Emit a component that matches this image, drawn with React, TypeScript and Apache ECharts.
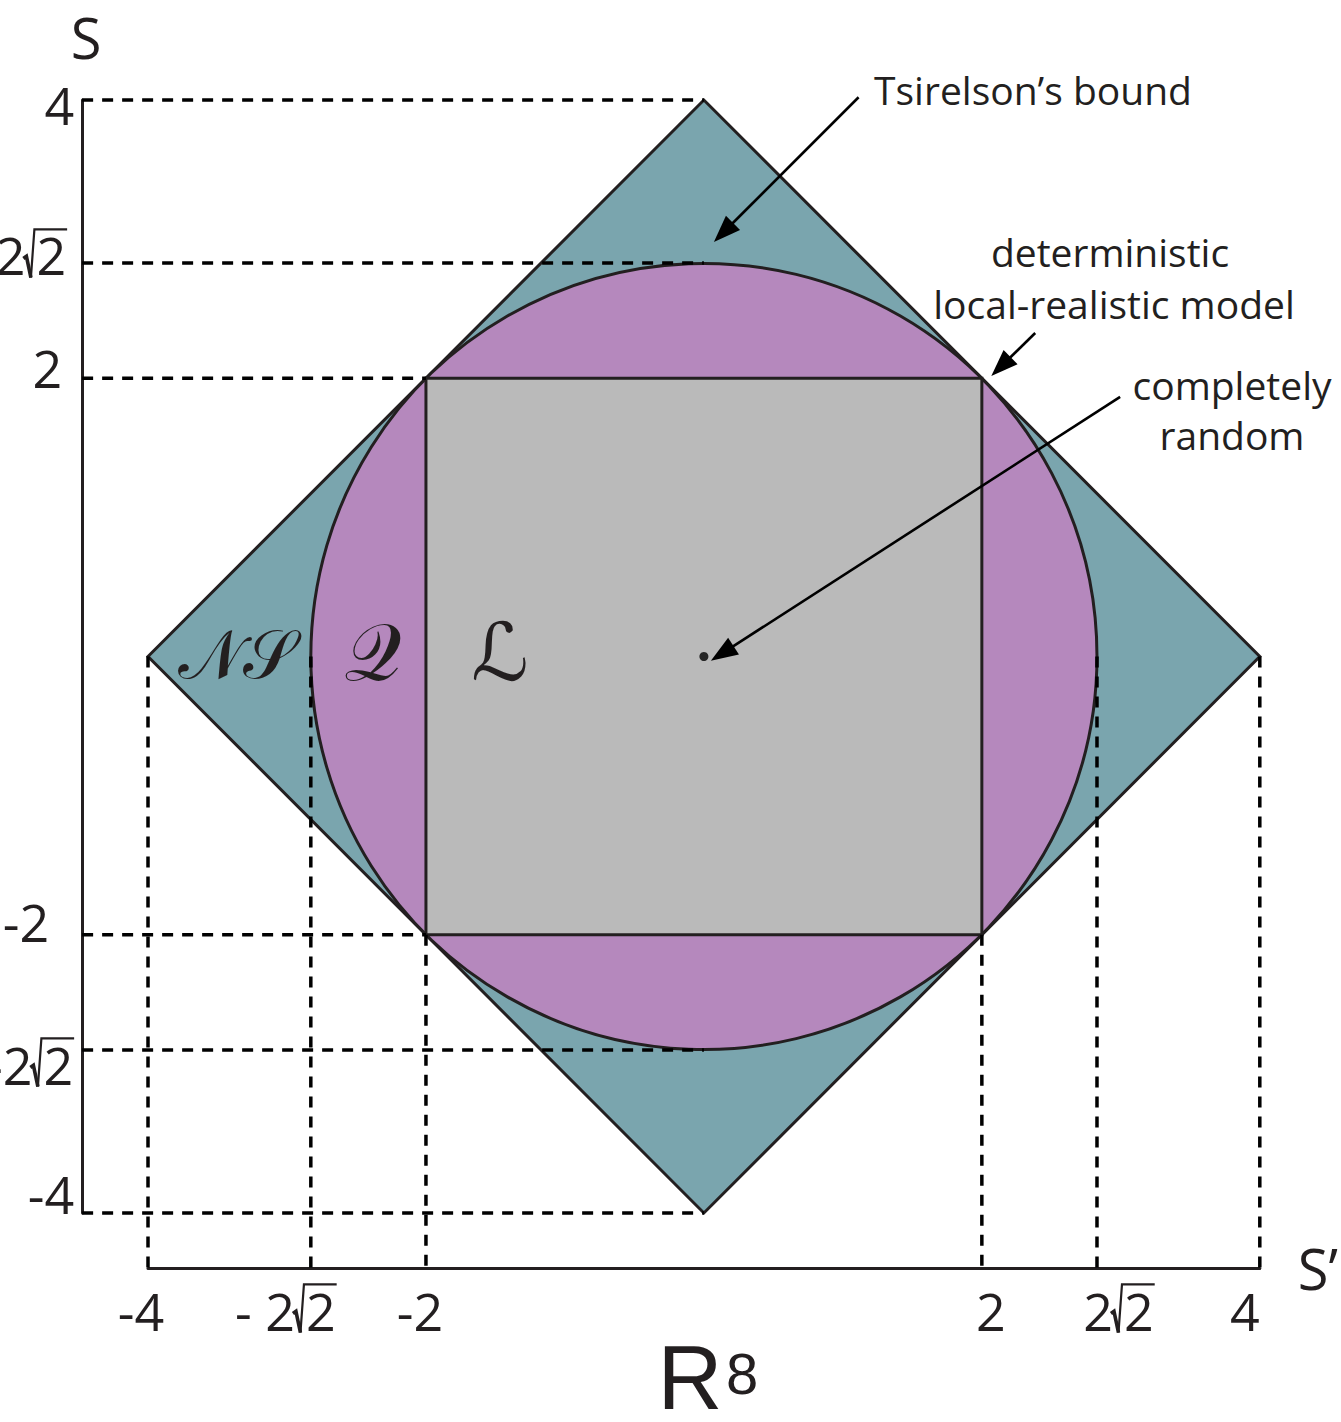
import React, { useEffect, useRef } from 'react';
import * as echarts from 'echarts';

const W = 1341;
const H = 1422;
const GRID = { left: 148, right: 79, top: 100, bottom: 209 };
const Y_AXIS_OFFSET = 66;
const X_AXIS_OFFSET = 55;

const INK = '#231F20';
const TEAL = '#7AA5AE';
const PURPLE = '#B588BD';
const GRAY = '#BABABA';
const FONT = '"Open Sans", "DejaVu Sans", sans-serif';
const SCRIPT_FONT = '"DejaVu Serif", "DejaVu Sans", "Liberation Serif", serif';
const TICK_SIZE = 52;

const SQ2 = Math.SQRT2;
const AXIS_MIN = -4;
const AXIS_MAX = 4;

// Regions
const DIAMOND = [[-4, 0], [0, 4], [4, 0], [0, -4]];
const CIRCLE = [0, 0, 2 * SQ2]; // cx, cy, r
const SQUARE = [-2, 2, 2, -2]; // x1, y1, x2, y2
const ORIGIN = [[0, 0]];

// Guide lines
const GUIDE_H_Y = [4, 2 * SQ2, 2, -2, -2 * SQ2, -4];
const GUIDE_H_XEND = [0, 0, -2, -2, 0, 0];
const GUIDE_V_X = [-4, -2 * SQ2, -2, 2, 2 * SQ2, 4];
const GUIDE_V_YSTART = [0, 0, -2, -2, 0, 0];

// Tick labels
const X_TICKS = [-4, -2 * SQ2, -2, 2, 2 * SQ2, 4];
const X_TICK_LABELS = ['-4', '- 2√2', '-2', '2', '2√2', '4'];
const Y_TICKS = [4, 2 * SQ2, 2, -2, -2 * SQ2, -4];
const Y_TICK_LABELS = ['4', '2√2', '2', '-2', '-2√2', '-4'];

// Annotation arrows: [fromX, fromY, toX, toY]
const ARROWS = [
  [1.113, 4.02, 0.072, 2.98],
  [2.384, 2.325, 2.068, 2.016],
  [2.995, 1.866, 0.05, -0.03],
];

// label nudges (pixels) – styling only
const X_LABEL_NUDGE = [[-7, 42], [-25, 42], [-6, 42], [9, 42], [22, 42], [-15, 42]];
const Y_LABEL_NUDGE = [[-8, 4], [-15, -8], [-20, -11], [-33, -13], [-8, 14], [-8, -20]];

const PX_PER_X = (W - GRID.left - GRID.right) / (AXIS_MAX - AXIS_MIN);
const PX_PER_Y = (H - GRID.top - GRID.bottom) / (AXIS_MAX - AXIS_MIN);
const AXIS_X = AXIS_MIN - Y_AXIS_OFFSET / PX_PER_X;
const AXIS_Y = AXIS_MIN - X_AXIS_OFFSET / PX_PER_Y;

let measureCtx: CanvasRenderingContext2D | null = null;
function measure(text: string, size: number): number {
  if (!measureCtx) measureCtx = document.createElement('canvas').getContext('2d');
  if (!measureCtx) return text.length * size * 0.57;
  measureCtx.font = `${size}px ${FONT}`;
  return measureCtx.measureText(text).width;
}

function tickLabelGroup(label: string, ax: number, cy: number, align: 'center' | 'right') {
  const txt = (t: string, x: number, a: string) => ({
    type: 'text',
    x,
    y: cy,
    style: {
      text: t,
      fill: INK,
      fontFamily: FONT,
      fontSize: TICK_SIZE,
      align: a,
      verticalAlign: 'middle',
      textAlign: a,
      textVerticalAlign: 'middle',
    },
  });
  if (label.indexOf('√') < 0) {
    return { type: 'group', children: [txt(label, ax, align)] };
  }
  const [prefix, radicand] = label.split('√');
  const wp = measure(prefix, TICK_SIZE);
  const wr = measure(radicand, TICK_SIZE);
  const RW = 13;
  const total = wp - 2 + RW + wr + 1;
  const left = align === 'center' ? ax - total / 2 : ax - total;
  const x0 = left + wp - 2;
  const h = TICK_SIZE * 0.714;
  const b = cy + h / 2 + 2;
  const xEnd = x0 + RW + wr + 1;
  const top = b - h - 9;
  return {
    type: 'group',
    children: [
      txt(prefix, left, 'left'),
      txt(radicand, x0 + RW, 'left'),
      {
        type: 'polyline',
        shape: { points: [[x0, b - 0.46 * h], [x0 + 3, b - 0.52 * h], [x0 + 7.5, b + 2]] },
        style: { stroke: INK, lineWidth: 3.6, fill: null, lineJoin: 'miter' },
      },
      {
        type: 'polyline',
        shape: { points: [[x0 + 7.5, b + 2], [x0 + 11, top], [xEnd, top]] },
        style: { stroke: INK, lineWidth: 2.2, fill: null, lineJoin: 'miter' },
      },
    ],
  };
}

function buildOption() {
  const guides = [
    ...GUIDE_H_Y.map((y, i) => [AXIS_X, y, GUIDE_H_XEND[i], y]),
    ...GUIDE_V_X.map((x, i) => [x, GUIDE_V_YSTART[i], x, AXIS_Y]),
  ];
  // [x, y, index, kind(0 = S' axis, 1 = S axis)]
  const tickData = [
    ...X_TICKS.map((v, i) => [v, AXIS_Y, i, 0]),
    ...Y_TICKS.map((v, i) => [AXIS_X, v, i, 1]),
  ];

  const textStyle = (extra: any) => ({
    fill: INK,
    fontFamily: FONT,
    fontSize: 39,
    align: 'center',
    verticalAlign: 'middle',
    textAlign: 'center',
    textVerticalAlign: 'middle',
    ...extra,
  });

  return {
    animation: false,
    backgroundColor: '#ffffff',
    grid: { ...GRID, containLabel: false },
    xAxis: {
      type: 'value',
      min: AXIS_MIN,
      max: AXIS_MAX,
      offset: X_AXIS_OFFSET,
      axisLine: { show: true, onZero: false, lineStyle: { color: INK, width: 3 } },
      axisTick: { show: false },
      axisLabel: { show: false },
      splitLine: { show: false },
      name: 'S’',
      nameLocation: 'end',
      nameGap: 38,
      nameTextStyle: { color: INK, fontFamily: FONT, fontSize: 56, verticalAlign: 'middle', align: 'left' },
    },
    yAxis: {
      type: 'value',
      min: AXIS_MIN,
      max: AXIS_MAX,
      offset: Y_AXIS_OFFSET,
      axisLine: { show: true, onZero: false, lineStyle: { color: INK, width: 3 } },
      axisTick: { show: false },
      axisLabel: { show: false },
      splitLine: { show: false },
      name: 'S',
      nameLocation: 'end',
      nameGap: 63,
      nameTextStyle: { color: INK, fontFamily: FONT, fontSize: 56, verticalAlign: 'middle', align: 'center', padding: [0, 0, 0, 8] },
    },
    graphic: [
      { type: 'text', z: 100, x: 1033, y: 89, style: textStyle({ text: 'Tsirelson’s bound' }) },
      { type: 'text', z: 100, x: 1110, y: 251, style: textStyle({ text: 'deterministic' }) },
      { type: 'text', z: 100, x: 1114, y: 303, style: textStyle({ text: 'local-realistic model' }) },
      { type: 'text', z: 100, x: 1232, y: 384, style: textStyle({ text: 'completely' }) },
      { type: 'text', z: 100, x: 1232, y: 434, style: textStyle({ text: 'random' }) },
      { type: 'text', z: 100, x: 237, y: 654, style: textStyle({ text: '𝒩𝒮', fontFamily: SCRIPT_FONT, fontSize: 68 }) },
      { type: 'text', z: 100, x: 372, y: 652, style: textStyle({ text: '𝒬', fontFamily: SCRIPT_FONT, fontSize: 80 }) },
      { type: 'text', z: 100, x: 500, y: 652, style: textStyle({ text: 'ℒ', fontFamily: SCRIPT_FONT, fontSize: 80 }) },
      { type: 'text', z: 100, x: 690, y: 1378, style: textStyle({ text: 'R', fontFamily: '"Liberation Sans", Arial, sans-serif', fontSize: 90, lineHeight: 76 }) },
      { type: 'text', z: 100, x: 742, y: 1373, style: textStyle({ text: '8', fontFamily: '"Liberation Sans", Arial, sans-serif', fontSize: 58 }) },
    ],
    series: [
      {
        type: 'custom',
        name: 'NS',
        silent: true,
        data: [[0, 0]],
        renderItem: (_p: any, api: any) => ({
          type: 'polygon',
          shape: { points: DIAMOND.map((d) => api.coord(d)) },
          style: { fill: TEAL, stroke: INK, lineWidth: 3, lineJoin: 'miter' },
        }),
      },
      {
        type: 'custom',
        name: 'Q',
        silent: true,
        data: [[0, 0]],
        renderItem: (_p: any, api: any) => {
          const c = api.coord([CIRCLE[0], CIRCLE[1]]);
          const r = api.size([CIRCLE[2], 0])[0];
          return {
            type: 'circle',
            shape: { cx: c[0], cy: c[1], r },
            style: { fill: PURPLE, stroke: INK, lineWidth: 3 },
          };
        },
      },
      {
        type: 'custom',
        name: 'L',
        silent: true,
        data: [[0, 0]],
        renderItem: (_p: any, api: any) => {
          const a = api.coord([SQUARE[0], SQUARE[1]]);
          const b = api.coord([SQUARE[2], SQUARE[3]]);
          return {
            type: 'rect',
            shape: { x: a[0], y: a[1], width: b[0] - a[0], height: b[1] - a[1] },
            style: { fill: GRAY, stroke: INK, lineWidth: 3 },
          };
        },
      },
      {
        type: 'custom',
        name: 'guides',
        silent: true,
        clip: false,
        data: guides,
        encode: { x: [0, 2], y: [1, 3] },
        renderItem: (_p: any, api: any) => {
          const a = api.coord([api.value(0), api.value(1)]);
          const b = api.coord([api.value(2), api.value(3)]);
          return {
            type: 'line',
            shape: { x1: a[0], y1: a[1], x2: b[0], y2: b[1] },
            style: { stroke: '#000', lineWidth: 3.5, lineDash: [11, 9], fill: null },
          };
        },
      },
      {
        type: 'custom',
        name: 'arrows',
        silent: true,
        clip: false,
        data: ARROWS,
        encode: { x: [0, 2], y: [1, 3] },
        renderItem: (_p: any, api: any) => {
          const a = api.coord([api.value(0), api.value(1)]);
          const b = api.coord([api.value(2), api.value(3)]);
          const dx = b[0] - a[0];
          const dy = b[1] - a[1];
          const len = Math.sqrt(dx * dx + dy * dy) || 1;
          const ux = dx / len;
          const uy = dy / len;
          const headLen = 27;
          const headHalf = 10;
          const bx = b[0] - ux * headLen;
          const by = b[1] - uy * headLen;
          return {
            type: 'group',
            children: [
              {
                type: 'line',
                shape: { x1: a[0], y1: a[1], x2: bx + ux * 2, y2: by + uy * 2 },
                style: { stroke: '#000', lineWidth: 2.6 },
              },
              {
                type: 'polygon',
                shape: {
                  points: [
                    [b[0], b[1]],
                    [bx - uy * headHalf, by + ux * headHalf],
                    [bx + uy * headHalf, by - ux * headHalf],
                  ],
                },
                style: { fill: '#000' },
              },
            ],
          };
        },
      },
      {
        type: 'scatter',
        name: 'random',
        silent: true,
        data: ORIGIN,
        symbolSize: 9,
        itemStyle: { color: '#000' },
      },
      {
        type: 'custom',
        name: 'ticks',
        silent: true,
        clip: false,
        data: tickData,
        encode: { x: 0, y: 1 },
        renderItem: (_p: any, api: any) => {
          const p = api.coord([api.value(0), api.value(1)]);
          const i = api.value(2);
          const kind = api.value(3);
          const label = kind === 0 ? X_TICK_LABELS[i] : Y_TICK_LABELS[i];
          const nudge = kind === 0 ? X_LABEL_NUDGE[i] : Y_LABEL_NUDGE[i];
          return tickLabelGroup(label, p[0] + nudge[0], p[1] + nudge[1], kind === 0 ? 'center' : 'right');
        },
      },
    ],
  };
}

export default function App() {
  const ref = useRef<HTMLDivElement>(null);
  useEffect(() => {
    document.body.style.margin = '0';
    const chart = echarts.init(ref.current as HTMLDivElement, null, { renderer: 'svg' });
    chart.setOption(buildOption() as any);
    return () => chart.dispose();
  }, []);
  return <div ref={ref} style={{ width: W, height: H, background: '#fff' }} />;
}
